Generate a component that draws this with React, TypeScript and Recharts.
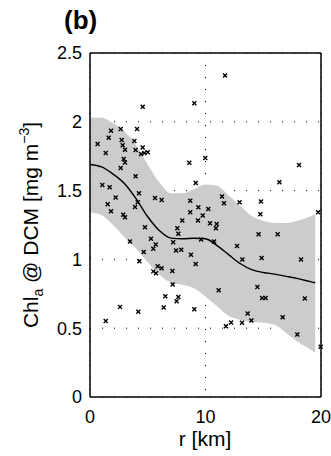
import React from "react";
import {
  Area,
  CartesianGrid,
  ComposedChart,
  Line,
  Scatter,
  XAxis,
  YAxis,
} from "recharts";

// axes
const xTicks = [0, 10, 20];
const yTicks = [0, 0.5, 1, 1.5, 2, 2.5];

// observations: distance r [km] vs Chl_a at DCM
const obsR = [
  4.56, 1.82, 2.66, 4.07, 1.62, 2.74, 3.84, 0.66, 2.83, 4.56, 1.36, 3.03, 3.95, 4.42, 4.7, 5.0,
  2.92, 3.03, 2.66, 3.95, 1.07, 1.7, 2.22, 4.24, 5.63, 6.2, 1.53, 4.13, 3.9, 1.82, 2.88, 3.03,
  4.76, 5.28, 5.69, 5.48, 3.46, 4.65, 4.27, 5.86, 6.2, 5.48, 5.71, 2.6, 4.18, 1.36, 9.03, 9.98,
  8.6, 9.15, 8.68, 11.43, 11.6, 12.95, 9.38, 10.24, 8.68, 9.76, 7.99, 9.35, 10.39, 10.97, 10.9,
  7.56, 7.65, 7.2, 9.61, 10.74, 12.73, 7.45, 7.9, 8.74, 9.15, 7.13, 7.16, 6.52, 7.65, 7.5, 6.38,
  9.03, 11.14, 12.21, 11.77, 18.1, 16.4, 14.8, 19.75, 14.75, 14.6, 16.25, 13.19, 14.86, 18.27,
  14.49, 14.9, 15.2, 18.6, 13.65, 13.16, 13.97, 16.68, 17.95, 19.97, 11.69,
];
const obsChl = [
  2.11, 1.935, 1.947, 1.947, 1.884, 1.867, 1.86, 1.838, 1.83, 1.814, 1.773, 1.797, 1.795, 1.766,
  1.773, 1.778, 1.73, 1.705, 1.664, 1.604, 1.54, 1.524, 1.45, 1.48, 1.447, 1.432, 1.4, 1.415,
  1.38, 1.35, 1.324, 1.307, 1.234, 1.15, 1.109, 1.078, 1.13, 1.053, 0.986, 0.951, 0.935, 0.913,
  0.9, 0.655, 0.62, 0.553, 2.135, 1.737, 1.703, 1.556, 1.427, 1.457, 1.408, 1.415, 1.379, 1.367,
  1.343, 1.319, 1.283, 1.283, 1.263, 1.258, 1.227, 1.227, 1.186, 1.125, 1.145, 1.13, 1.097,
  1.065, 1.07, 1.034, 0.966, 0.915, 0.817, 0.732, 0.727, 0.696, 0.65, 0.638, 0.775, 0.541, 0.514,
  1.686, 1.56, 1.42, 1.343, 1.328, 1.183, 1.183, 1.0, 1.01, 1.0, 0.8, 0.72, 0.72, 0.715, 0.606,
  0.54, 0.556, 0.58, 0.454, 0.365, 2.336,
];

// confidence band
const bandR = [0, 1, 2, 3, 4, 5, 6, 7, 8, 9, 10, 11, 12, 13, 14, 15, 16, 17, 18, 19, 19.5];
const bandHigh = [
  2.03, 2.03, 1.99, 1.93, 1.83, 1.69, 1.56, 1.48, 1.48, 1.51, 1.545, 1.535, 1.465, 1.39, 1.315,
  1.28, 1.265, 1.265, 1.28, 1.31, 1.33,
];
const bandLow = [
  1.34, 1.32, 1.25, 1.16, 1.08, 0.98, 0.89, 0.83, 0.815, 0.79, 0.73, 0.66, 0.59, 0.56, 0.545,
  0.54, 0.525, 0.465, 0.4, 0.35, 0.32,
];

// smoothed mean
const meanR = bandR;
const meanChl = [
  1.69, 1.672, 1.62, 1.55, 1.44, 1.31, 1.21, 1.155, 1.15, 1.154, 1.15, 1.1, 1.035, 0.97, 0.925,
  0.905, 0.893, 0.877, 0.86, 0.84, 0.83,
];

const obsData = obsR.map((r, i) => ({ r, chl: obsChl[i] }));
const bandData = bandR.map((r, i) => ({ r, band: [bandLow[i], bandHigh[i]] }));
const meanData = meanR.map((r, i) => ({ r, chl: meanChl[i] }));

const FONT = "'Liberation Sans', Arial, Helvetica, sans-serif";

const Cross = (props: any) => {
  const { cx, cy } = props;
  if (cx == null || cy == null) return null;
  const s = 2;
  return (
    <path
      d={`M${cx - s},${cy - s}L${cx + s},${cy + s}M${cx - s},${cy + s}L${cx + s},${cy - s}`}
      stroke="#000"
      strokeWidth={1.4}
      fill="none"
    />
  );
};

const XTick = (props: any) => {
  const { x, payload } = props;
  return (
    <text x={x} y={423} textAnchor="middle" fontSize={18} fontFamily={FONT} fill="#000">
      {payload.value}
    </text>
  );
};

const YTick = (props: any) => {
  const { x, y, payload } = props;
  return (
    <text x={x} y={y} dy="0.36em" textAnchor="end" fontSize={18} fontFamily={FONT} fill="#000">
      {payload.value}
    </text>
  );
};

export default function App() {
  return (
    <div style={{ position: "absolute", left: 0, top: 0, width: 331, height: 456, background: "#fff" }}>
      <ComposedChart
        width={331}
        height={456}
        margin={{ top: 53, right: 10, bottom: 29, left: 0 }}
      >
        <CartesianGrid stroke="#000" strokeDasharray="1 11" />
        <XAxis
          dataKey="r"
          type="number"
          domain={[0, 20]}
          ticks={xTicks}
          height={30}
          tick={<XTick />}
          tickLine={false}
          axisLine={{ stroke: "#000", strokeWidth: 1.5 }}
        />
        <YAxis
          type="number"
          domain={[0, 2.5]}
          ticks={yTicks}
          width={90}
          tick={<YTick />}
          tickLine={false}
          axisLine={{ stroke: "#000", strokeWidth: 1.5 }}
        />
        {/* inward tick marks on all four sides */}
        <XAxis
          xAxisId="bottomIn"
          orientation="bottom"
          mirror
          type="number"
          domain={[0, 20]}
          ticks={xTicks}
          tick={false}
          tickSize={4}
          tickLine={{ stroke: "#000" }}
          axisLine={false}
        />
        <YAxis
          yAxisId="leftIn"
          orientation="left"
          mirror
          type="number"
          domain={[0, 2.5]}
          ticks={yTicks}
          tick={false}
          tickSize={4}
          tickLine={{ stroke: "#000" }}
          axisLine={false}
        />
        <XAxis
          xAxisId="top"
          orientation="top"
          mirror
          type="number"
          domain={[0, 20]}
          ticks={xTicks}
          tick={false}
          tickSize={4}
          tickLine={{ stroke: "#000" }}
          axisLine={{ stroke: "#000", strokeWidth: 1.5 }}
        />
        <YAxis
          yAxisId="right"
          orientation="right"
          mirror
          type="number"
          domain={[0, 2.5]}
          ticks={yTicks}
          tick={false}
          tickSize={4}
          tickLine={{ stroke: "#000" }}
          axisLine={{ stroke: "#000", strokeWidth: 1.5 }}
        />
        <Area
          data={bandData}
          dataKey="band"
          type="monotone"
          stroke="none"
          fill="#cccccc"
          fillOpacity={1}
          isAnimationActive={false}
        />
        <Line
          data={meanData}
          dataKey="chl"
          type="monotone"
          stroke="#000"
          strokeWidth={1.4}
          dot={false}
          isAnimationActive={false}
        />
        <Scatter data={obsData} dataKey="chl" shape={<Cross />} isAnimationActive={false} />
      </ComposedChart>
      <svg
        width={331}
        height={456}
        style={{ position: "absolute", left: 0, top: 0, pointerEvents: "none" }}
      >
        <text x={64} y={29} fontSize={26} fontWeight="bold" fontFamily={FONT}>
          (b)
        </text>
        <text x={205} y={446} textAnchor="middle" fontSize={21} fontFamily={FONT}>
          r [km]
        </text>
        <text
          transform="translate(38,225) rotate(-90)"
          textAnchor="middle"
          fontSize={21}
          fontFamily={FONT}
        >
          Chl
          <tspan fontSize={14} dy={5}>a</tspan>
          <tspan dy={-5}> @ DCM [mg m</tspan>
          <tspan fontSize={14} dy={-9}>−3</tspan>
          <tspan dy={9}>]</tspan>
        </text>
      </svg>
    </div>
  );
}
